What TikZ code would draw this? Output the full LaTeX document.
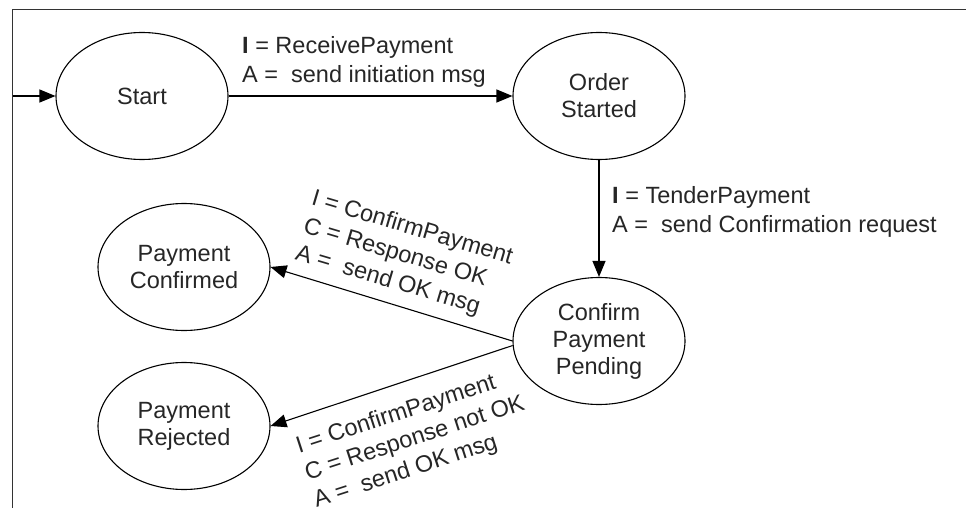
\documentclass[tikz,border=0pt]{standalone}
\usepackage{fontspec}
\setmainfont{Liberation Sans}
\usetikzlibrary{shapes.geometric,arrows.meta}
\begin{document}
\begin{tikzpicture}[x=1pt,y=-1pt,
  state/.style={ellipse,draw,line width=1.1pt,minimum width=172pt,minimum height=127pt,
    inner sep=0pt,align=center,font=\fontsize{23.5}{27}\selectfont,text=black!85},
  lbl/.style={inner sep=0pt,align=left,font=\fontsize{23.5}{28.5}\selectfont,text=black!85},
  trans/.style={draw,line width=1.1pt,-{Triangle[length=16pt,width=13pt]}}]
\useasboundingbox (0,0) rectangle (966,508);

% open frame: top and left edges
\draw[line width=1.5pt,black!80] (966,9.5) -- (12.5,9.5) -- (12.5,508);
\coordinate (entry) at (12.5,96);

% states
\node[state] (start) at (142,96) {Start};
\node[state] (order) at (599,96) {Order\\Started};
\node[state] (cpp) at (599,341) {Confirm\\Payment\\Pending};
\node[state] (pc) at (184,267) {Payment\\Confirmed};
\node[state] (pr) at (184,426) {Payment\\Rejected};

% transitions
\draw[trans] (entry) -- (start.west);
\draw[trans] (start) -- (order);
\draw[trans] (order) -- (cpp);
\draw[trans] (cpp.west) -- (pc.east);
\draw[trans] (cpp.183) -- (pr.east);

% transition labels
\node[lbl,anchor=west] (l1) at (242,62) {\textbf{I} = ReceivePayment\\A =\ \ send initiation msg};
\node[lbl,anchor=west] (l2) at (612,212) {\textbf{I} = TenderPayment\\A =\ \ send Confirmation request};
\node[lbl,rotate=-16.5] (l3) at (404,256) {I = ConfirmPayment\\C = Response OK\\A =\ \ send OK msg};
\node[lbl,rotate=18] (l4) at (415,439) {I = ConfirmPayment\\C = Response not OK\\A =\ \ send OK msg};
\end{tikzpicture}
\end{document}
